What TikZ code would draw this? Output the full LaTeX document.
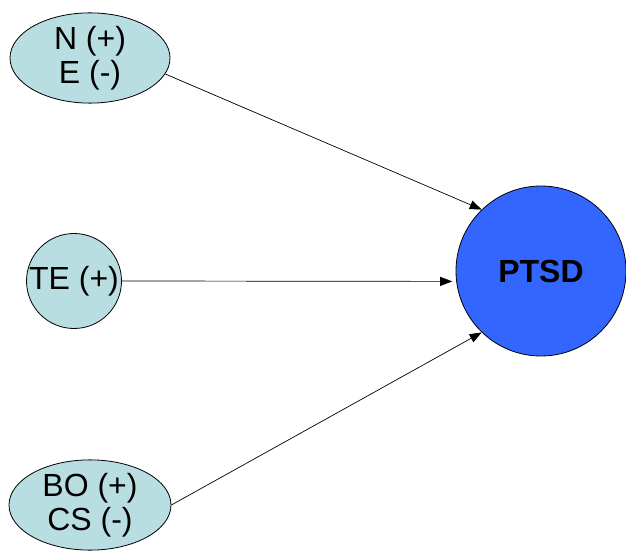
\documentclass[tikz,border=0pt]{standalone}
\usepackage{fontspec}
\setmainfont{Liberation Sans}
\usetikzlibrary{shapes.geometric,arrows.meta}
\definecolor{factor}{RGB}{185,222,226}
\definecolor{outcome}{RGB}{51,102,255}
\tikzset{
	factor/.style={draw,fill=factor,line width=0.8pt,inner sep=0pt,align=center,font=\fontsize{32}{34}\selectfont},
	link/.style={-{Triangle[length=12pt,width=9pt]},line width=0.7pt}
}
\begin{document}
\begin{tikzpicture}[x=1pt,y=1pt]
	\useasboundingbox (0,0) rectangle (626,552);
	%\draw [help lines,step=50] (0,0) grid (626,552);
	\node[factor,ellipse,minimum width=160,minimum height=90] (ne) at (90,494) {N (+)\\E (-)};
	\node[factor,circle,minimum size=95] (te) at (74,271) {TE (+)};
	\node[factor,ellipse,minimum width=162,minimum height=87] (bc) at (90,47) {BO (+)\\CS (-)};

	\node[draw,circle,fill=outcome,line width=0.8pt,minimum size=170,font=\fontsize{32}{34}\selectfont\bfseries] (ptsd) at (541,281) {PTSD};

	\draw[link] (ne.-12) -- (ptsd.134);
	\draw[link,shorten >=4pt] (te.east) -- (ptsd.187);
	\draw[link] (bc.east) -- (ptsd.226);
\end{tikzpicture}
\end{document}
